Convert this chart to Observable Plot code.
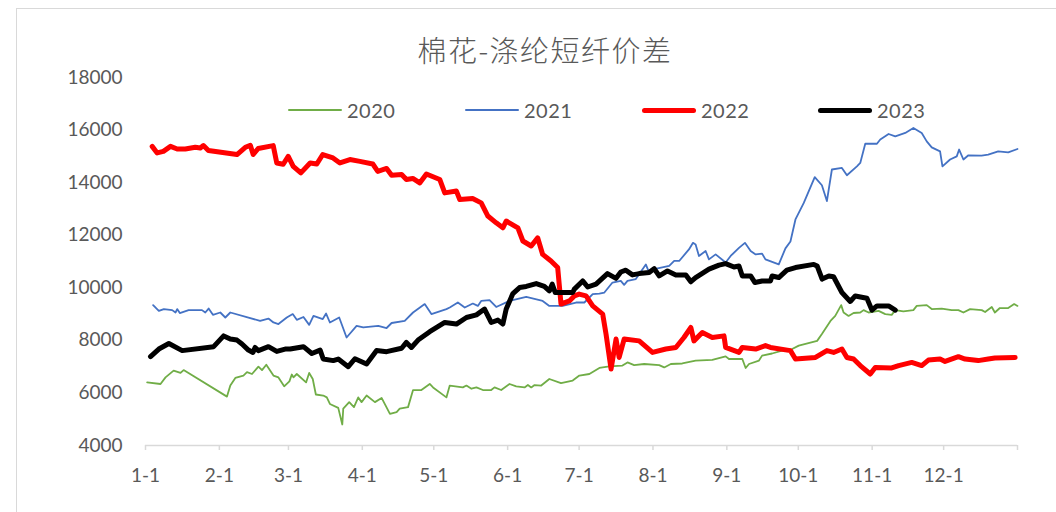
<!DOCTYPE html>
<html>
<head>
<meta charset="utf-8">
<script src="https://cdn.jsdelivr.net/npm/d3@7"></script>
<script src="https://cdn.jsdelivr.net/npm/@observablehq/plot@0.6"></script>
<style>
  html, body { margin: 0; padding: 0; background: #fff; }
  body { width: 1056px; height: 512px; overflow: hidden; position: relative; font-family: Lato, "Noto Sans", sans-serif; }
  #frame { position: absolute; left: 16px; top: 8px; width: 1200px; height: 700px; border: 1.5px solid #d9d9d9; box-sizing: border-box; }
  #title { position: absolute; left: 0; width: 1090px; top: 29px; line-height: 40px; text-align: center;
           font-family: "Noto Sans CJK SC", sans-serif; font-size: 29px; font-weight: 300; letter-spacing: 1.5px; color: #595959; }
  #chart { position: absolute; left: 0; top: 62px; }
  .leg { position: absolute; top: 98px; height: 24px; display: flex; align-items: center; font-size: 20px; color: #595959; letter-spacing: 0.5px; }
  .sw { width: 54px; margin-right: 5px; border-radius: 3px; }
</style>
</head>
<body>
<div id="frame"></div>
<div id="title">棉花-涤纶短纤价差</div>
<div id="chart"></div>
<div id="legend"></div>
<script>
// Month-start ticks (day of year) and their labels
const tickDays = [0, 31, 60, 91, 121, 152, 182, 213, 244, 274, 305, 335, 366];
const tickLabels = ["1-1","2-1","3-1","4-1","5-1","6-1","7-1","8-1","9-1","10-1","11-1","12-1",""];
const yTicks = [4000, 6000, 8000, 10000, 12000, 14000, 16000, 18000];

const seriesNames = ["2020", "2021", "2022", "2023"];
const seriesColors = ["#70ad47", "#4472c4", "#ff0000", "#000000"];
const seriesWidths = [1.8, 1.8, 5, 5];

// [day of year, spread]
const s2020 = [[0.7,6400],[6.3,6340],[8.4,6590],[11.8,6850],[14.7,6760],[16,6870],[34.2,5860],[35.6,6280],[37.7,6570],[41.1,6660],[42.6,6790],[44.7,6720],[47.4,7000],[48.9,6870],[50.7,7070],[53.7,6660],[55.8,6590],[58.2,6250],[60.4,6440],[61.4,6700],[62.1,6590],[63.5,6720],[67.4,6400],[68.7,6760],[70.2,6530],[71.5,5940],[74.6,5900],[76.1,5830],[77.4,5580],[80.9,5430],[82.6,4800],[83,5400],[85.5,5650],[87.5,5460],[89.3,5830],[90.7,5650],[92.8,5900],[96.3,5650],[99.1,5810],[102.6,5200],[105.4,5270],[106.7,5400],[110.2,5460],[112.3,6110],[115.8,6110],[119.3,6340],[120.7,6210],[126.3,5830],[127.7,6280],[133.2,6210],[134.7,6280],[136.8,6160],[138.9,6210],[141.6,6110],[145.1,6110],[146.5,6210],[149.3,6110],[152.8,6340],[155.6,6250],[159.1,6210],[160.5,6300],[161.9,6210],[163.3,6300],[166.1,6280],[169.5,6530],[174.4,6370],[179.3,6470],[182.1,6660],[186.3,6720],[190.5,6950],[194.7,7010],[200.2,7040],[202.3,7160],[205.1,7060],[209.3,7100],[215.6,7060],[217.7,6970],[220.5,7100],[225.3,7120],[230.9,7230],[237.9,7260],[243.5,7390],[244.9,7290],[250.5,7290],[251.9,6950],[253.3,7100],[257.5,7230],[258.8,7420],[263,7500],[267.2,7610],[271.4,7670],[274.2,7800],[281.9,7980],[283.9,8240],[287.5,8740],[289.5,8930],[292,9340],[293,9060],[295.1,8930],[297.2,9040],[300,9060],[301.4,9150],[303.5,9060],[307.7,9120],[310.5,9000],[313.2,8970],[314.7,9150],[318.1,9100],[322.3,9150],[323.7,9310],[327.9,9340],[330,9190],[334.2,9210],[338.4,9150],[341.2,9150],[343.3,9060],[346.1,9190],[351,9150],[352.4,9080],[355.2,9270],[356.5,9060],[358.6,9230],[362.1,9230],[364.6,9380],[366,9310]];

const s2021 = [[3.2,9340],[5.6,9120],[7.7,9190],[11.2,9150],[12.6,9060],[13.3,9190],[14.4,9040],[18.1,9150],[23.7,9150],[25.1,9060],[26.5,9210],[28.3,8970],[31.4,9060],[33.5,8870],[35.6,9060],[48.1,8740],[51.6,8830],[53.7,8680],[55.8,8620],[59.3,8870],[61.8,9000],[63.5,8780],[66.3,8890],[68.7,8590],[70.5,8930],[74.4,8810],[75.8,9020],[77.4,8680],[81.3,8870],[84.4,8110],[88.6,8550],[91.4,8490],[97.7,8550],[101.2,8470],[103.3,8660],[108.8,8740],[112.3,9060],[117.2,9380],[120,9000],[126.3,9190],[127.7,9250],[131.1,9440],[134,9250],[137.4,9400],[139.5,9310],[140.9,9500],[144.4,9530],[147.2,9270],[152.8,9500],[159.8,9650],[166.7,9500],[169.5,9310],[175.1,9310],[180.7,9440],[184.2,9440],[186.3,9630],[187.7,9760],[190.5,9780],[192.6,9820],[196,10200],[199.5,10260],[200.9,10110],[202.3,10260],[205.8,10330],[210,10890],[211.4,10580],[213.5,10710],[219.8,10830],[221.9,11020],[224,11020],[228.1,11460],[229.8,11710],[230.9,11650],[232.3,11210],[235.1,11400],[236.5,11080],[239.3,11270],[243.5,10960],[245.6,11210],[249.1,11520],[251.6,11710],[254,11400],[256.1,11270],[258.8,11300],[260.2,11080],[265.8,10890],[268.6,11500],[270.7,11760],[272.8,12600],[276.3,13230],[280.9,14210],[283.9,13900],[286,13300],[288.1,14500],[292.3,14560],[294.4,14280],[298.6,14620],[300,14750],[302.1,15480],[307,15480],[308.4,15640],[311.9,15850],[314.7,15760],[318.9,15890],[322.3,16080],[325.8,15890],[327.9,15570],[330,15340],[333.5,15190],[334.5,14620],[337.7,14880],[340.5,15000],[341.5,15260],[343.3,14880],[345.4,15040],[350.9,15030],[353.7,15070],[357.9,15190],[362.1,15150],[366,15280]];

const s2022 = [[2.8,15380],[4.9,15130],[7.5,15190],[10.5,15380],[13.3,15280],[16.7,15280],[20.9,15345],[23,15320],[24.3,15410],[26.4,15220],[38.4,15070],[41.9,15345],[44,15420],[45.2,15070],[47.3,15300],[53.6,15410],[55.1,14750],[57.8,14700],[59.9,15000],[62,14620],[65.2,14370],[69.1,14750],[71.9,14710],[74.4,15070],[78.7,14940],[81.6,14750],[85.8,14880],[90,14810],[95.4,14710],[97.5,14430],[101.2,14540],[103.3,14280],[107.5,14310],[109.5,14120],[112.2,14160],[115.1,13990],[117.9,14330],[123.5,14120],[125.6,13610],[130.5,13680],[131.9,13360],[137.3,13400],[140.9,13230],[143.7,12730],[147.2,12470],[150,12280],[151.4,12540],[156.3,12280],[158.4,11780],[161.9,11590],[164.6,11900],[166.7,11270],[170.2,11020],[173,10770],[174.4,9380],[177.9,9500],[180,9690],[182,9760],[184.9,9690],[187.7,9310],[191.9,9000],[193.3,8240],[195.4,6910],[197.5,8050],[198.8,7350],[200.9,8050],[207.2,7980],[212.8,7540],[218.4,7670],[222.6,7730],[226,8110],[228.9,8490],[230.2,7980],[233.7,8300],[237.9,8110],[242.8,8170],[243.5,7730],[249.1,7540],[250.5,7730],[256.1,7670],[260.2,7800],[262.3,7730],[270.7,7610],[272.8,7290],[281.2,7350],[286,7610],[288.8,7540],[292.3,7670],[294.4,7350],[297.2,7290],[300,7040],[304.2,6720],[306.3,6970],[313.2,6950],[316.1,7040],[321.6,7160],[325.8,7040],[328.6,7250],[333.5,7290],[335.6,7200],[341.2,7380],[344,7290],[349.5,7230],[353.7,7290],[356.5,7330],[365,7350]];

const s2023 = [[2.1,7380],[5.6,7670],[9.8,7880],[15.4,7610],[28.6,7760],[32.8,8170],[35.6,8050],[38.4,8010],[40.5,7860],[43.2,7630],[45.1,7540],[46,7730],[47.4,7610],[51.6,7760],[55.1,7580],[58.6,7670],[60.7,7670],[66.3,7760],[69.8,7500],[73.3,7630],[74.6,7290],[78.8,7230],[80.9,7290],[85.1,7000],[87.9,7300],[92.8,7100],[97,7610],[101.2,7570],[107.5,7700],[109.5,7920],[111.6,7730],[114.4,8010],[119.3,8330],[125.6,8680],[130.5,8620],[134.7,8870],[138.9,8970],[142.3,9190],[145.1,8680],[147.9,8770],[150,8620],[151.4,9190],[154.2,9780],[157,10010],[159.8,10050],[164,10160],[167.4,10050],[169.5,9880],[170.7,10140],[172,9820],[179.3,9820],[180,9950],[183.5,10260],[185.6,10030],[189.1,10140],[193.9,10540],[197.5,10360],[199.5,10600],[201.6,10670],[204.4,10490],[207.2,10540],[211.4,10580],[213.5,10730],[215.6,10450],[219.1,10640],[222.6,10490],[226.8,10490],[228.9,10230],[230.9,10390],[236.5,10710],[240.7,10860],[243.5,10920],[247,10790],[249.1,10830],[250.5,10450],[254,10450],[255.8,10200],[258.8,10260],[262.3,10260],[263,10450],[265.8,10390],[269.2,10670],[272.8,10770],[280.5,10890],[281.9,10830],[284,10330],[286.8,10450],[288.8,10420],[292.3,9820],[295.8,9480],[297.9,9690],[302.8,9600],[304.9,9150],[307,9310],[311.9,9310],[314.7,9150]];

const allSeries = [s2020, s2021, s2022, s2023];

const labelFor = new Map(tickDays.map((d, i) => [d, tickLabels[i]]));

const lineMarks = allSeries.map((s, i) =>
  Plot.line(s, {x: d => d[0], y: d => d[1], stroke: seriesColors[i], strokeWidth: seriesWidths[i],
                strokeLinejoin: "round", strokeLinecap: "round"}));

const chart = Plot.plot({
  width: 1056,
  height: 450,
  marginLeft: 145,
  marginRight: 39,
  marginTop: 15,
  marginBottom: 67,
  style: {fontFamily: "Lato, 'Noto Sans', sans-serif", fontSize: "19px", color: "#595959", background: "transparent", overflow: "visible"},
  x: {type: "linear", domain: [0, 366]},
  y: {domain: [4000, 18000]},
  marks: [
    Plot.axisY(yTicks, {tickSize: 0, tickPadding: 23, label: null, fill: "#595959", tickFormat: d => String(d)}),
    Plot.axisX(tickDays, {tickSize: 5, tickPadding: 18, label: null, stroke: "#d9d9d9", strokeWidth: 1.5, fill: "#595959",
                          tickFormat: d => labelFor.get(d) ?? ""}),
    Plot.ruleY([4000], {stroke: "#d9d9d9", strokeWidth: 1.5}),
    ...lineMarks
  ]
});
document.getElementById("chart").appendChild(chart);

// Legend
const legendLefts = [288, 465, 642, 818];
const legend = document.getElementById("legend");
seriesNames.forEach((name, i) => {
  const item = document.createElement("div");
  item.className = "leg";
  item.style.left = legendLefts[i] + "px";
  const sw = document.createElement("div");
  sw.className = "sw";
  sw.style.height = (seriesWidths[i] > 3 ? 5 : 2) + "px";
  sw.style.background = seriesColors[i];
  const t = document.createElement("span");
  t.textContent = name;
  item.appendChild(sw);
  item.appendChild(t);
  legend.appendChild(item);
});
</script>
</body>
</html>
